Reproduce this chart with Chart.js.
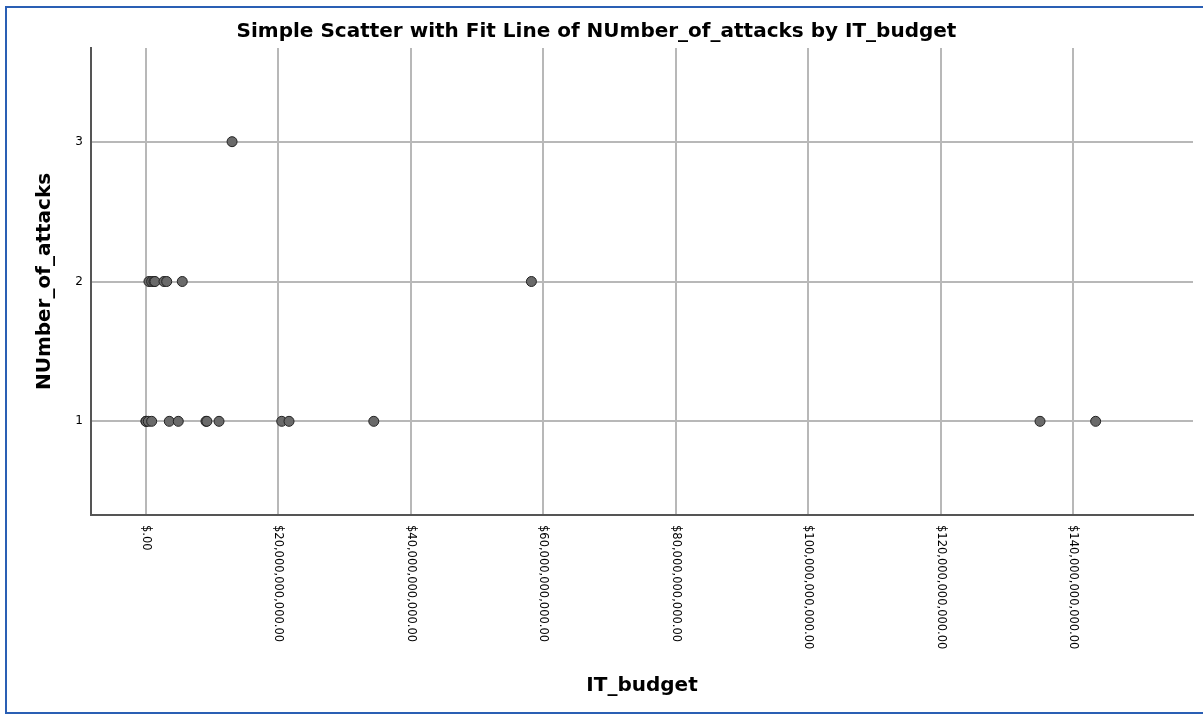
<!DOCTYPE html>
<html lang="en">
<head>
  <meta charset="UTF-8">
  <title>Simple Scatter with Fit Line of NUmber_of_attacks by IT_budget</title>
  <script src="https://cdn.jsdelivr.net/npm/chart.js"></script>
  <style>
    body {
      margin: 0;
      background: #fff;
      overflow: hidden;
    }
    #wrap {
      position: relative;
      width: 1203px;
      height: 715px;
      overflow: hidden;
    }
    #frame {
      position: absolute;
      left: 5px;
      top: 6px;
      right: 0;
      bottom: 1px;
      border-left: 2px solid #2a5fb4;
      border-top: 2px solid #2a5fb4;
      border-bottom: 2px solid #2a5fb4;
      pointer-events: none;
    }
  </style>
</head>
<body>
  <div id="wrap">
    <canvas id="chart" width="1203" height="715"></canvas>
    <div id="frame"></div>
  </div>

  <script>
    // IT budget (dollars) and number of attacks
    const budget1 = [0, 0.02e9, 0.35e9, 0.86e9, 3.52e9, 4.88e9, 9.06e9, 9.2e9, 11.03e9, 20.5e9, 21.6e9, 34.4e9, 135.0e9, 143.4e9];
    const budget2 = [0.45e9, 0.86e9, 1.2e9, 1.36e9, 2.72e9, 3.13e9, 5.48e9, 58.2e9];
    const budget3 = [13.0e9];

    const xTicks = [0, 20e9, 40e9, 60e9, 80e9, 100e9, 120e9, 140e9];
    const yTicks = [1, 2, 3];

    const points = [
      ...budget1.map(v => ({ x: v, y: 1 })),
      ...budget2.map(v => ({ x: v, y: 2 })),
      ...budget3.map(v => ({ x: v, y: 3 }))
    ];

    function money(v) {
      if (v === 0) return '$.00';
      return '$' + v.toLocaleString('en-US', { minimumFractionDigits: 2, maximumFractionDigits: 2 });
    }

    // x tick labels read top to bottom, so draw them by hand
    const verticalTicks = {
      id: 'verticalTicks',
      afterDraw(chart) {
        const ctx = chart.ctx;
        const scale = chart.scales.x;
        ctx.save();
        ctx.font = '11.5px "DejaVu Sans"';
        ctx.fillStyle = '#000';
        ctx.textAlign = 'left';
        ctx.textBaseline = 'middle';
        scale.ticks.forEach(t => {
          const px = scale.getPixelForValue(t.value);
          ctx.save();
          ctx.translate(px, scale.top + 10);
          ctx.rotate(Math.PI / 2);
          ctx.fillText(money(t.value), 0, 0);
          ctx.restore();
        });
        ctx.restore();
      }
    };

    const ctx = document.getElementById('chart').getContext('2d');
    new Chart(ctx, {
      type: 'scatter',
      data: {
        datasets: [{
          label: 'NUmber_of_attacks',
          data: points,
          backgroundColor: '#6a6a6a',
          borderColor: '#222',
          borderWidth: 1,
          pointRadius: 5,
          pointHoverRadius: 5
        }]
      },
      options: {
        responsive: false,
        animation: false,
        layout: { padding: { left: 0, right: 10, top: 0, bottom: 0 } },
        plugins: {
          legend: { display: false },
          tooltip: { enabled: false },
          title: {
            display: true,
            text: 'Simple Scatter with Fit Line of NUmber_of_attacks by IT_budget',
            color: '#000',
            font: { family: '"DejaVu Sans"', size: 20, weight: 'bold' },
            padding: { top: 20, bottom: 4 }
          }
        },
        scales: {
          x: {
            type: 'linear',
            min: -8.3e9,
            max: 158.1e9,
            afterBuildTicks: s => { s.ticks = xTicks.map(v => ({ value: v })); },
            afterFit: s => { s.height = 200; },
            ticks: { display: false },
            grid: { color: '#b8b8b8', lineWidth: 2, drawTicks: false },
            border: { color: '#555', width: 2 },
            title: {
              display: true,
              text: 'IT_budget',
              color: '#000',
              font: { family: '"DejaVu Sans"', size: 20, weight: 'bold' },
              padding: { top: 0, bottom: 17 }
            }
          },
          y: {
            min: 0.33,
            max: 3.67,
            afterBuildTicks: s => { s.ticks = yTicks.map(v => ({ value: v })); },
            afterFit: s => { s.width = 91; },
            ticks: {
              color: '#000',
              padding: 8,
              font: { family: '"DejaVu Sans"', size: 12 }
            },
            grid: { color: '#b8b8b8', lineWidth: 2, drawTicks: false },
            border: { color: '#555', width: 2 },
            title: {
              display: true,
              text: 'NUmber_of_attacks',
              color: '#000',
              font: { family: '"DejaVu Sans"', size: 20, weight: 'bold' },
              padding: { top: 33, bottom: 0 }
            }
          }
        }
      },
      plugins: [verticalTicks]
    });
  </script>
</body>
</html>
